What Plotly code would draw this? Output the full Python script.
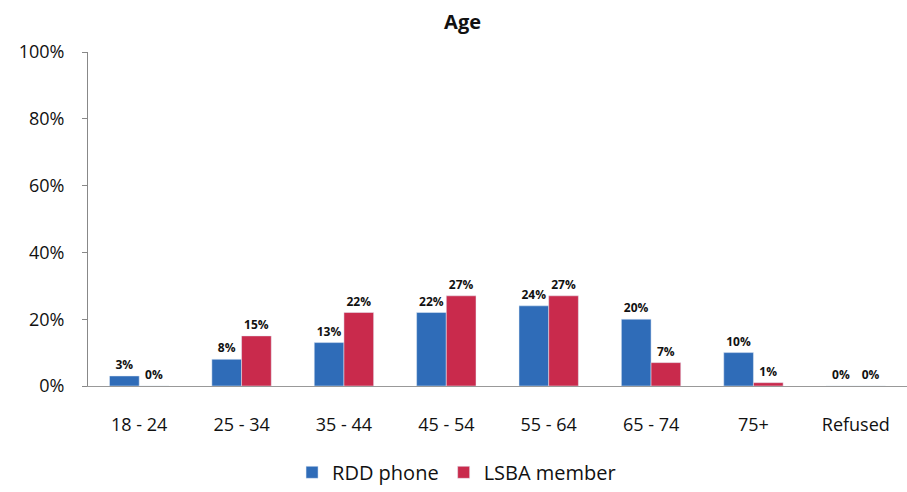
import plotly.graph_objects as go

categories = ["18 - 24", "25 - 34", "35 - 44", "45 - 54", "55 - 64", "65 - 74", "75+", "Refused"]
rdd_phone = [3, 8, 13, 22, 24, 20, 10, 0]
lsba_member = [0, 15, 22, 27, 27, 7, 1, 0]
y_ticks = [0, 20, 40, 60, 80, 100]

font = "Open Sans, Noto Sans, sans-serif"

fig = go.Figure()
fig.add_trace(go.Bar(
    name="RDD phone", x=categories, y=rdd_phone,
    marker=dict(color="#2f6cb8"),
    text=[f"<b>{v}%</b>" for v in rdd_phone], textposition="outside",
    textfont=dict(family=font, size=12, color="#111"),
    cliponaxis=False,
))
fig.add_trace(go.Bar(
    name="LSBA member", x=categories, y=lsba_member,
    marker=dict(color="#c92a4c"),
    text=[f"<b>{v}%</b>" for v in lsba_member], textposition="outside",
    textfont=dict(family=font, size=12, color="#111"),
    cliponaxis=False,
))

fig.update_layout(
    width=907, height=492,
    margin=dict(l=88, r=0, t=52, b=102),
    paper_bgcolor="white", plot_bgcolor="white",
    barmode="group", bargap=0.42, bargroupgap=0,
    title=dict(text="<b>Age</b>", x=0.51, xanchor="center", y=0.955, yanchor="middle",
               font=dict(family=font, size=20, color="#111")),
    font=dict(family=font, color="#222"),
    legend=dict(orientation="h", x=0.45, xanchor="center", y=-0.2, yanchor="top",
                font=dict(family=font, size=20, color="#111"), itemwidth=30,
                traceorder="normal"),
    uniformtext=dict(mode=False),
)
fig.update_yaxes(
    range=[0, 100], tickvals=y_ticks, ticktext=[f"{v}%" for v in y_ticks],
    showgrid=False, showline=True, linecolor="#888", linewidth=1,
    ticks="outside", ticklen=5, tickcolor="#888", ticklabelstandoff=14,
    tickfont=dict(family=font, size=18, color="#111"), zeroline=False,
)
fig.update_xaxes(
    showgrid=False, showline=True, linecolor="#999", linewidth=1,
    ticks="", ticklabelstandoff=22,
    tickfont=dict(family=font, size=18, color="#111"),
)

fig.write_html("out.html")
